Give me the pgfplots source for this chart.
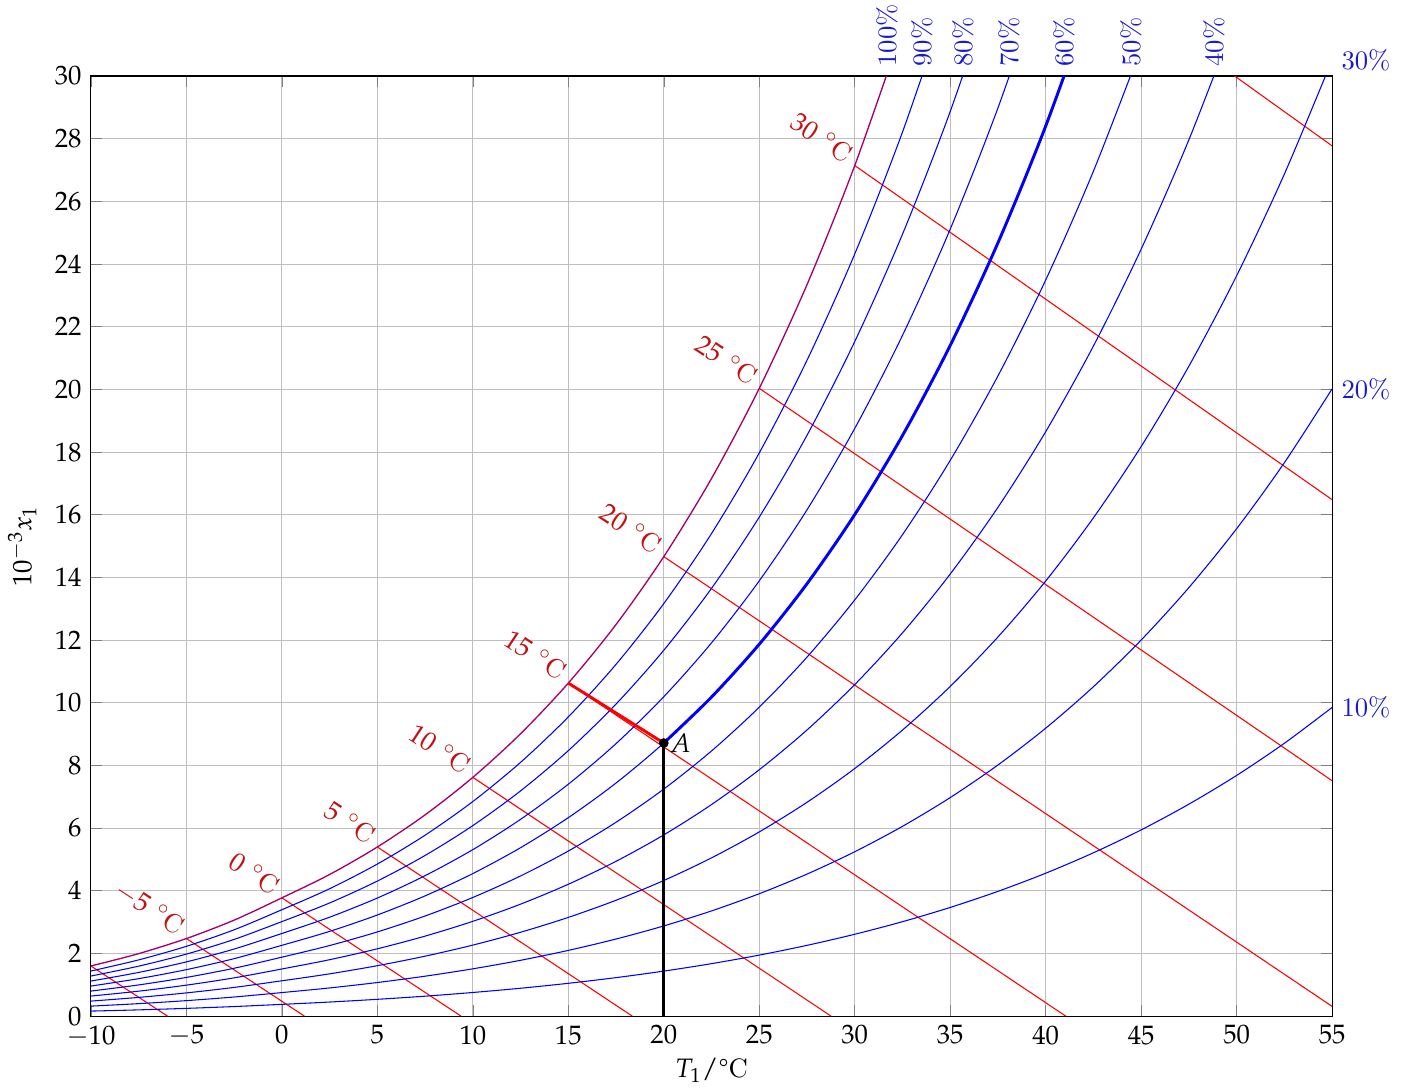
\documentclass[border=0pt]{standalone}
\usepackage{mathpazo}
\usepackage{pgfplots}
\pgfplotsset{compat=1.18}
\definecolor{satcol}{RGB}{165,0,110}
\definecolor{lblred}{RGB}{195,16,16}
\definecolor{lblblue}{RGB}{25,25,205}
\begin{document}
\begin{tikzpicture}
\begin{axis}[
  at={(0,0)}, anchor=south west,
  scale only axis, width=465.4pt, height=352.5pt,
  xmin=-10, xmax=55, ymin=0, ymax=30,
  xtick={-10,-5,...,55}, ytick={0,2,...,30},
  grid=major, major grid style={black!25, thin},
  tick style={black!50},
  clip mode=individual,
  xlabel={$T_1/$\textdegree C}, ylabel={$10^{-3}x_1$},
  xlabel style={yshift=2.5pt},
]
% wet-bulb lines
\addplot[red, thin] coordinates {(-10,1.599) (-5.99,0)};
\addplot[red, thin] coordinates {(-5,2.476) (1.18,0)};
\addplot[red, thin] coordinates {(0,3.774) (9.38,0)};
\addplot[red, thin] coordinates {(5,5.397) (18.35,0)};
\addplot[red, thin] coordinates {(10,7.619) (28.76,0)};
\addplot[red, thin] coordinates {(15,10.627) (41.05,0)};
\addplot[red, thin] coordinates {(20,14.663) (55,0.31)};
\addplot[red, thin] coordinates {(25,20.034) (55,7.51)};
\addplot[red, thin] coordinates {(30,27.143) (55,16.48)};
\addplot[red, thin] coordinates {(35,36.51) (55,27.77)};
% relative humidity curves
\addplot[blue, thin, smooth] coordinates {(-10,1.439) (-7.5,1.794) (-5,2.227) (-2.5,2.755) (0,3.395) (2.5,4.065) (5,4.853) (7.5,5.774) (10,6.848) (12.5,8.098) (15,9.548) (17.5,11.226) (20,13.165) (22.5,15.400) (25,17.973) (27.5,20.929) (30,24.322) (32.5,28.211) (35,32.666)};
\addplot[blue, thin, smooth] coordinates {(-10,1.279) (-7.5,1.594) (-5,1.979) (-2.5,2.448) (0,3.016) (2.5,3.611) (5,4.310) (7.5,5.127) (10,6.080) (12.5,7.188) (15,8.472) (17.5,9.959) (20,11.675) (22.5,13.651) (25,15.925) (27.5,18.534) (30,21.526) (32.5,24.951) (35,28.868) (37.5,33.344)};
\addplot[blue, thin, smooth] coordinates {(-10,1.119) (-7.5,1.394) (-5,1.731) (-2.5,2.141) (0,2.637) (2.5,3.157) (5,3.768) (7.5,4.482) (10,5.313) (12.5,6.280) (15,7.401) (17.5,8.696) (20,10.192) (22.5,11.912) (25,13.890) (27.5,16.157) (30,18.754) (32.5,21.723) (35,25.114) (37.5,28.982) (40,33.391)};
\addplot[blue, thin, smooth] coordinates {(-10,0.959) (-7.5,1.195) (-5,1.483) (-2.5,1.834) (0,2.259) (2.5,2.704) (5,3.227) (7.5,3.837) (10,4.549) (12.5,5.375) (15,6.333) (17.5,7.439) (20,8.715) (22.5,10.182) (25,11.868) (27.5,13.798) (30,16.006) (32.5,18.527) (35,21.403) (37.5,24.677) (40,28.403) (42.5,32.638)};
\addplot[blue, thin, smooth] coordinates {(-10,0.799) (-7.5,0.995) (-5,1.235) (-2.5,1.528) (0,1.881) (2.5,2.252) (5,2.687) (7.5,3.195) (10,3.786) (12.5,4.473) (15,5.268) (17.5,6.187) (20,7.246) (22.5,8.462) (25,9.858) (27.5,11.456) (30,13.282) (32.5,15.363) (35,17.734) (37.5,20.430) (40,23.490) (42.5,26.963) (45,30.899)};
\addplot[blue, thin, smooth] coordinates {(-10,0.639) (-7.5,0.796) (-5,0.988) (-2.5,1.221) (0,1.504) (2.5,1.800) (5,2.148) (7.5,2.553) (10,3.025) (12.5,3.573) (15,4.208) (17.5,4.940) (20,5.783) (22.5,6.751) (25,7.862) (27.5,9.131) (30,10.580) (32.5,12.230) (35,14.107) (37.5,16.237) (40,18.651) (42.5,21.385) (45,24.476) (47.5,27.967) (50,31.908)};
\addplot[blue, thin, smooth] coordinates {(-10,0.479) (-7.5,0.597) (-5,0.741) (-2.5,0.916) (0,1.127) (2.5,1.349) (5,1.609) (7.5,1.913) (10,2.266) (12.5,2.676) (15,3.150) (17.5,3.697) (20,4.327) (22.5,5.050) (25,5.878) (27.5,6.823) (30,7.901) (32.5,9.128) (35,10.520) (37.5,12.099) (40,13.884) (42.5,15.902) (45,18.178) (47.5,20.742) (50,23.628) (52.5,26.872) (55,30.517)};
\addplot[blue, thin, smooth] coordinates {(-10,0.319) (-7.5,0.398) (-5,0.494) (-2.5,0.610) (0,0.751) (2.5,0.899) (5,1.072) (7.5,1.274) (10,1.509) (12.5,1.781) (15,2.097) (17.5,2.460) (20,2.878) (22.5,3.357) (25,3.906) (27.5,4.532) (30,5.245) (32.5,6.056) (35,6.974) (37.5,8.014) (40,9.188) (42.5,10.512) (45,12.002) (47.5,13.676) (50,15.555) (52.5,17.661) (55,20.017)};
\addplot[blue, thin, smooth] coordinates {(-10,0.160) (-7.5,0.199) (-5,0.247) (-2.5,0.305) (0,0.375) (2.5,0.449) (5,0.536) (7.5,0.636) (10,0.754) (12.5,0.889) (15,1.047) (17.5,1.228) (20,1.436) (22.5,1.674) (25,1.947) (27.5,2.258) (30,2.612) (32.5,3.013) (35,3.468) (37.5,3.981) (40,4.560) (42.5,5.212) (45,5.943) (47.5,6.764) (50,7.681) (52.5,8.707) (55,9.850)};
% saturation curve
\addplot[satcol, line width=0.5pt, smooth] coordinates {(-10,1.599) (-7.5,1.994) (-5,2.476) (-2.5,3.063) (0,3.774) (2.5,4.520) (5,5.397) (7.5,6.422) (10,7.619) (12.5,9.011) (15,10.627) (17.5,12.498) (20,14.663) (22.5,17.158) (25,20.034) (27.5,23.342) (30,27.143) (32.5,31.504)};
% highlighted state A
\addplot[blue, line width=1.1pt, smooth] coordinates {(20,8.715) (22.5,10.182) (25,11.868) (27.5,13.798) (30,16.006) (32.5,18.527) (35,21.403) (37.5,24.677) (40,28.403) (42.5,32.638)};
\addplot[red, line width=1.1pt] coordinates {(15,10.627) (20,8.715)};
\addplot[black, line width=1.1pt] coordinates {(20,0) (20,8.715)};
\addplot[black, only marks, mark=*, mark size=1.6pt] coordinates {(20,8.715)};
\node[anchor=west, inner sep=1pt, xshift=1pt] at (axis cs:20,8.715) {$A$};
% wet-bulb labels
\foreach \t/\w in {-5/2.476, 0/3.774, 5/5.397, 10/7.619, 15/10.627, 20/14.663, 25/20.034, 30/27.143}{
  \edef\temp{\noexpand\node[lblred, anchor=east, rotate=-33.3, yshift=2pt] at (axis cs:\t,\w) {$\t$\noexpand\ $^\noexpand\circ$C};}
  \temp
}
% RH labels top
\node[lblblue, rotate=90, anchor=west] at (axis cs:31.68,30) {100\%};
\node[lblblue, rotate=90, anchor=west] at (axis cs:33.55,30) {90\%};
\node[lblblue, rotate=90, anchor=west] at (axis cs:35.67,30) {80\%};
\node[lblblue, rotate=90, anchor=west] at (axis cs:38.11,30) {70\%};
\node[lblblue, rotate=90, anchor=west] at (axis cs:40.98,30) {\textbf{60\%}};
\node[lblblue, rotate=90, anchor=west] at (axis cs:44.46,30) {50\%};
\node[lblblue, rotate=90, anchor=west] at (axis cs:48.83,30) {40\%};
% RH labels right
\node[lblblue, anchor=west] at (axis cs:55,30.517) {30\%};
\node[lblblue, anchor=west] at (axis cs:55,20.017) {20\%};
\node[lblblue, anchor=west] at (axis cs:55,9.850) {10\%};
\end{axis}
\pgfresetboundingbox
\path[use as bounding box] (-34.1pt,-27pt) rectangle (493.1pt,381pt);
\end{tikzpicture}
\end{document}
